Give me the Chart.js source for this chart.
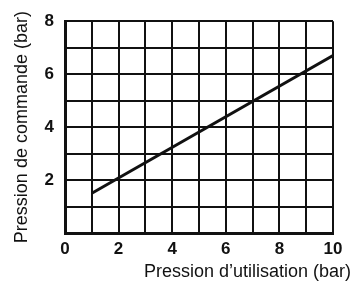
<!DOCTYPE html>
<html>
<head>
<meta charset="utf-8">
<script src="https://cdn.jsdelivr.net/npm/chart.js@4"></script>
<style>
  html, body { margin: 0; padding: 0; background: #fff; }
  #wrap { width: 353px; height: 282px; }
</style>
</head>
<body>
<div id="wrap"><canvas id="chart"></canvas></div>
<script>
const utilisation = [1, 10];
const commande = [1.5, 6.7];
const xTicks = [0, 2, 4, 6, 8, 10];
const yTicks = [2, 4, 6, 8];
const xTitle = 'Pression d\u2019utilisation (bar)';
const yTitle = 'Pression de commande (bar)';

const FONT = '"Liberation Sans", Arial, Helvetica, sans-serif';

// x title sits right-aligned under the plot, past the chart area edge
const xTitlePlugin = {
  id: 'xTitle',
  afterDraw(chart) {
    const { ctx } = chart;
    ctx.save();
    ctx.font = '18px ' + FONT;
    ctx.fillStyle = '#111';
    ctx.textAlign = 'right';
    ctx.textBaseline = 'middle';
    ctx.fillText(xTitle, 351, 272);
    ctx.restore();
  },
};

new Chart(document.getElementById('chart'), {
  type: 'line',
  data: {
    datasets: [{
      data: utilisation.map((x, i) => ({ x, y: commande[i] })),
      borderColor: '#111',
      borderWidth: 3,
      pointRadius: 0,
      fill: false,
    }],
  },
  options: {
    responsive: true,
    maintainAspectRatio: false,
    animation: false,
    layout: { padding: { top: 21, right: 20, left: 0, bottom: 0 } },
    plugins: { legend: { display: false }, tooltip: { enabled: false } },
    scales: {
      x: {
        type: 'linear',
        min: 0,
        max: 10,
        afterFit: (s) => { s.height = 49; },
        border: { color: '#111', width: 3 },
        grid: { color: '#111', lineWidth: 2, drawTicks: false },
        ticks: {
          stepSize: 1,
          padding: 6,
          color: '#111',
          font: { family: FONT, size: 17, weight: 'bold' },
          callback: (v) => (xTicks.includes(v) ? String(v) : ''),
        },
      },
      y: {
        type: 'linear',
        min: 0,
        max: 8,
        afterFit: (s) => { s.width = 65; },
        border: { color: '#111', width: 3 },
        grid: { color: '#111', lineWidth: 2, drawTicks: false },
        title: {
          display: true,
          text: yTitle,
          color: '#111',
          align: 'center',
          font: { family: FONT, size: 18 },
          padding: { top: 11, bottom: 0 },
        },
        ticks: {
          stepSize: 1,
          padding: 11,
          color: '#111',
          font: { family: FONT, size: 17, weight: 'bold' },
          callback: (v) => (yTicks.includes(v) ? String(v) : ''),
        },
      },
    },
  },
  plugins: [xTitlePlugin],
});
</script>
</body>
</html>
